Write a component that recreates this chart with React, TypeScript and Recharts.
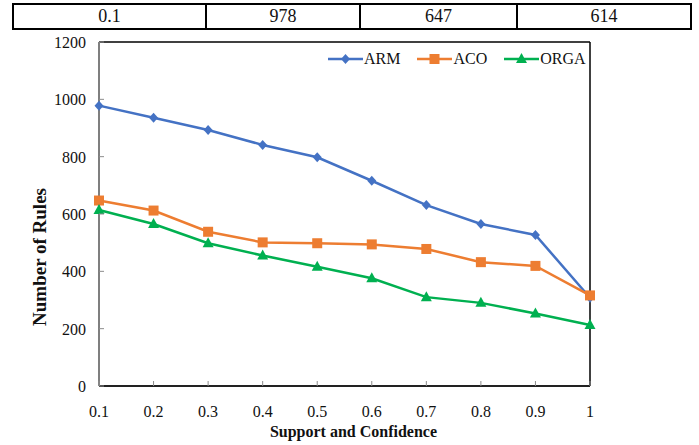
import React from "react";
import { LineChart, Line, XAxis, YAxis, Legend, ReferenceLine } from "recharts";

const categories = ["0.1", "0.2", "0.3", "0.4", "0.5", "0.6", "0.7", "0.8", "0.9", "1"];
const armValues = [978, 936, 893, 841, 798, 716, 631, 565, 527, 308];
const acoValues = [647, 612, 538, 501, 498, 494, 478, 432, 419, 316];
const orgaValues = [614, 565, 498, 455, 416, 376, 310, 290, 253, 213];
const yTicks = [0, 200, 400, 600, 800, 1000, 1200];
const seriesNames = ["ARM", "ACO", "ORGA"];
const tableRow = ["0.1", "978", "647", "614"];
const tableColWidths = [193, 154, 157, 174];

const FONT = '"Times New Roman", "Liberation Serif", serif';
const BLUE = "#4472C4";
const ORANGE = "#ED7D31";
const GREEN = "#00B050";

const chartData = categories.map((c, i) => ({
  x: c,
  ARM: armValues[i],
  ACO: acoValues[i],
  ORGA: orgaValues[i],
}));

type Shape = "diamond" | "square" | "triangle";
const shapes: Record<string, Shape> = { ARM: "diamond", ACO: "square", ORGA: "triangle" };

function Marker({ cx, cy, shape, color }: { cx: number; cy: number; shape: Shape; color: string }) {
  if (shape === "diamond") {
    return <polygon points={`${cx},${cy - 5} ${cx + 4.5},${cy} ${cx},${cy + 5} ${cx - 4.5},${cy}`} fill={color} />;
  }
  if (shape === "square") {
    return <rect x={cx - 5} y={cy - 5} width={10} height={10} fill={color} />;
  }
  return <polygon points={`${cx},${cy - 6} ${cx + 5.5},${cy + 4} ${cx - 5.5},${cy + 4}`} fill={color} />;
}

const makeDot = (shape: Shape, color: string) => (p: any) => (
  <Marker key={`${shape}-${p.index}`} cx={p.cx} cy={p.cy} shape={shape} color={color} />
);

function XTick({ x, y, payload }: any) {
  return (
    <g>
      <line x1={x} y1={y} x2={x} y2={y - 5} stroke="#8c8c8c" strokeWidth={1} />
      <text x={x} y={y + 31} textAnchor="middle" fontFamily={FONT} fontSize={16} fill="#111">
        {payload.value}
      </text>
    </g>
  );
}

function YTick({ x, y, payload }: any) {
  return (
    <g>
      <line x1={x} y1={y} x2={x + 5} y2={y} stroke="#8c8c8c" strokeWidth={1} />
      <text x={x - 13} y={y + 6} textAnchor="end" fontFamily={FONT} fontSize={16} fill="#111">
        {payload.value}
      </text>
    </g>
  );
}

function renderLegend({ payload }: any) {
  const items = seriesNames
    .map((n) => (payload || []).find((p: any) => p.value === n))
    .filter(Boolean);
  return (
    <div style={{ display: "flex", alignItems: "center", fontFamily: FONT, fontSize: 16, color: "#111" }}>
      {items.map((item: any) => (
        <div key={item.value} style={{ display: "flex", alignItems: "center", marginRight: 17 }}>
          <svg width={35} height={14}>
            <line x1={0} y1={7} x2={35} y2={7} stroke={item.color} strokeWidth={2.5} />
            <Marker cx={17.5} cy={7} shape={shapes[item.value]} color={item.color} />
          </svg>
          <span style={{ marginLeft: 1 }}>{item.value}</span>
        </div>
      ))}
    </div>
  );
}

function Table() {
  return (
    <div
      style={{
        position: "absolute",
        left: 12,
        top: 3,
        display: "flex",
        border: "2px solid #000",
        height: 23,
        fontFamily: FONT,
        fontSize: 18,
        color: "#111",
      }}
    >
      {tableRow.map((v, i) => (
        <div
          key={i}
          style={{
            width: tableColWidths[i] - (i === 0 ? 2 : 0),
            borderLeft: i === 0 ? "none" : "2px solid #000",
            textAlign: "center",
            lineHeight: "23px",
            boxSizing: "border-box",
          }}
        >
          {v}
        </div>
      ))}
    </div>
  );
}

export default function App() {
  return (
    <div style={{ position: "relative", width: 699, height: 445, background: "#fff" }}>
      <style>{"body{margin:0;background:#fff}"}</style>
      <Table />
      <div style={{ position: "absolute", left: 12, top: 28, width: 13, height: 1.5, background: "#000" }} />
      <div style={{ position: "absolute", left: 605, top: 28, width: 85, height: 1.5, background: "#000" }} />
      <LineChart
        width={699}
        height={445}
        data={chartData}
        margin={{ top: 42, right: 109, left: 0, bottom: 0 }}
      >
        <XAxis
          dataKey="x"
          type="category"
          padding={{ left: 0, right: 0 }}
          height={59}
          tickSize={0}
          tickMargin={0}
          tick={<XTick />}
          interval={0}
          axisLine={{ stroke: "#222", strokeWidth: 2 }}
          label={{
            content: ({ viewBox }: any) => (
              <text
                x={viewBox.x + viewBox.width / 2 + 9}
                y={viewBox.y + 51}
                textAnchor="middle"
                fontFamily={FONT}
                fontWeight="bold"
                fontSize={16}
                fill="#111"
              >
                Support and Confidence
              </text>
            ),
          }}
        />
        <YAxis
          domain={[0, 1200]}
          ticks={yTicks}
          width={99}
          tickSize={0}
          tickMargin={0}
          tick={<YTick />}
          interval={0}
          axisLine={{ stroke: "#7f7f7f", strokeWidth: 2 }}
          label={{
            content: ({ viewBox }: any) => {
              const cx = viewBox.x + 46;
              const cy = viewBox.y + viewBox.height / 2 + 43;
              return (
                <text
                  x={cx}
                  y={cy}
                  transform={`rotate(-90, ${cx}, ${cy})`}
                  textAnchor="middle"
                  fontFamily={FONT}
                  fontWeight="bold"
                  fontSize={19}
                  fill="#111"
                >
                  Number of Rules
                </text>
              );
            },
          }}
        />
        <ReferenceLine y={1200} stroke="#000" strokeWidth={1.5} ifOverflow="visible" />
        <ReferenceLine x="1" stroke="#000" strokeWidth={1.5} ifOverflow="visible" />
        <Legend
          layout="horizontal"
          verticalAlign="middle"
          align="center"
          content={renderLegend}
          wrapperStyle={{ position: "absolute", left: 328, top: 50, width: 280 }}
        />
        <Line
          dataKey="ARM"
          stroke={BLUE}
          strokeWidth={2.5}
          dot={makeDot("diamond", BLUE)}
          activeDot={false}
          isAnimationActive={false}
        />
        <Line
          dataKey="ACO"
          stroke={ORANGE}
          strokeWidth={2.5}
          dot={makeDot("square", ORANGE)}
          activeDot={false}
          isAnimationActive={false}
        />
        <Line
          dataKey="ORGA"
          stroke={GREEN}
          strokeWidth={2.5}
          dot={makeDot("triangle", GREEN)}
          activeDot={false}
          isAnimationActive={false}
        />
      </LineChart>
    </div>
  );
}
